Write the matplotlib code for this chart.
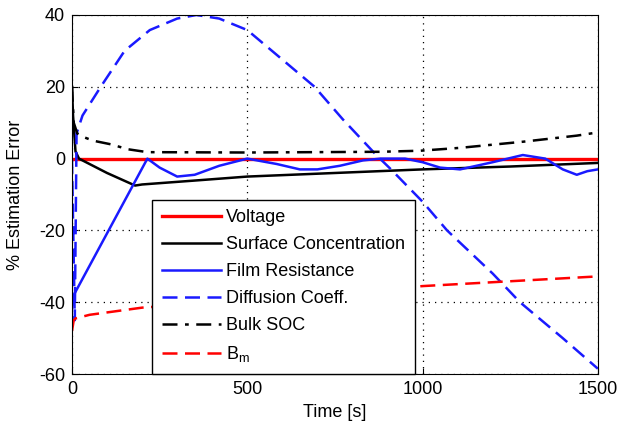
import numpy as np
import matplotlib
matplotlib.use("Agg")
import matplotlib.pyplot as plt

plt.rcParams["font.family"] = ["Liberation Sans", "DejaVu Sans"]
plt.rcParams["axes.unicode_minus"] = False

# Voltage (red solid)
t_volt = [0, 1500]
e_volt = [0, 0]

# Surface Concentration (black solid)
t_surf = [0, 3, 10, 20, 100, 180, 200, 365, 500, 700, 1000, 1250, 1500]
e_surf = [20, 12, 2, 0, -4, -7.5, -7.2, -6, -5, -4.2, -3, -2.2, -1.2]

# Film Resistance (blue solid)
t_film = [0, 5, 215, 250, 300, 350, 420, 500, 584, 650, 700, 764, 830, 880,
          950, 1000, 1050, 1107, 1200, 1286, 1350, 1400, 1440, 1470, 1500]
e_film = [-42, -38, 0, -2.5, -5, -4.5, -2, 0, -1.5, -3, -3, -2, -0.5, 0,
          0, -1, -2.5, -3, -1, 1, 0, -3, -4.5, -3.5, -3]

# Diffusion Coeff. (blue dashed)
t_diff = [0, 8, 13, 30, 82, 150, 222, 300, 355, 420, 500, 601, 692, 772,
          868, 910, 1000, 1070, 1200, 1278, 1400, 1500]
e_diff = [0, -45, 7, 12, 20, 30, 35.8, 39, 40, 39, 35.8, 27.5, 20, 11,
          1, -3, -12, -20, -32, -40, -50, -58.5]

# Bulk SOC (black dash-dot)
t_bulk = [0, 5, 15, 33, 60, 110, 160, 215, 500, 880, 994, 1107, 1286, 1440, 1500]
e_bulk = [20, 10, 7, 6, 5, 4, 2.6, 1.8, 1.7, 1.9, 2.2, 3, 4.7, 6.4, 7.3]

# B_m (red dashed)
t_bm = [0, 5, 10, 50, 200, 500, 1000, 1500]
e_bm = [-48, -45, -44.5, -43.5, -41.5, -39.5, -35.5, -32.8]

fig = plt.figure(figsize=(6.26, 4.28), dpi=100)
ax = fig.add_axes([0.115, 0.126, 0.84, 0.839])

ax.plot(t_volt, e_volt, color="#ff0000", linewidth=2.4, label="Voltage")
ax.plot(t_surf, e_surf, color="black", linewidth=1.8,
    label="Surface Concentration")
ax.plot(t_film, e_film, color="#1a1aff", linewidth=1.8,
    label="Film Resistance")
ax.plot(t_diff, e_diff, color="#1a1aff", linewidth=1.8,
    linestyle=(0, (6, 3)), label="Diffusion Coeff.")
ax.plot(t_bulk, e_bulk, color="black", linewidth=1.8,
    linestyle=(0, (6, 3, 1.5, 3)), label="Bulk SOC")
ax.plot(t_bm, e_bm, color="#ff0000", linewidth=1.8,
    linestyle=(0, (6, 3)), label=r"B$_\mathregular{m}$")

ax.set_xlim(0, 1500)
ax.set_ylim(-60, 40)
ax.set_xticks([0, 500, 1000, 1500])
ax.set_yticks([-60, -40, -20, 0, 20, 40])
ax.grid(True, color="black", linestyle=(0, (1, 4)), linewidth=0.9)
ax.tick_params(direction="in", labelsize=13, length=4, pad=5)
ax.set_xlabel("Time [s]", fontsize=13, labelpad=4)
ax.set_ylabel("% Estimation Error", fontsize=13, labelpad=11)

leg = ax.legend(loc="lower left", bbox_to_anchor=(0.152, 0.0),
    fontsize=13, frameon=True, fancybox=False, framealpha=1.0,
    edgecolor="black", handlelength=3.3, labelspacing=0.55,
    borderaxespad=0.0, handletextpad=0.25, borderpad=0.55)
leg.get_frame().set_linewidth(1.0)

fig.savefig("out.png", dpi=100)
